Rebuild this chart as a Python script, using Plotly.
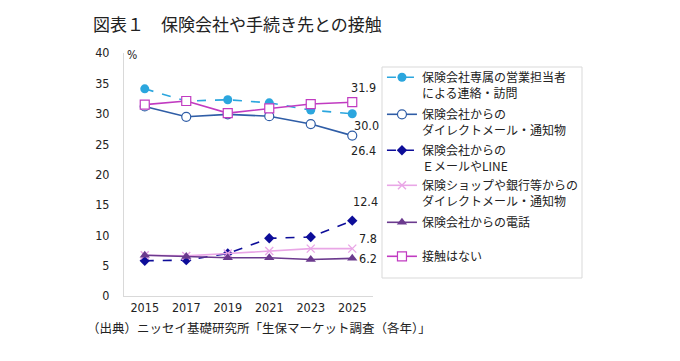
import plotly.graph_objects as go

years = ["2015", "2017", "2019", "2021", "2023", "2025"]
names = [
    "保険会社専属の営業担当者<br>による連絡・訪問",
    "保険会社からの<br>ダイレクトメール・通知物",
    "保険会社からの<br>ＥメールやLINE",
    "保険ショップや銀行等からの<br>ダイレクトメール・通知物",
    "保険会社からの電話",
    "接触はない",
]
agent = [34.1, 32.1, 32.3, 31.8, 30.6, 30.0]
dm_company = [31.2, 29.5, 29.9, 29.6, 28.3, 26.4]
email_line = [5.8, 5.9, 7.0, 9.5, 9.7, 12.4]
dm_shop = [6.7, 6.6, 7.0, 7.4, 7.8, 7.8]
phone = [6.7, 6.5, 6.3, 6.3, 6.0, 6.2]
no_contact = [31.5, 32.1, 30.1, 30.9, 31.6, 31.9]
y_ticks = [0, 5, 10, 15, 20, 25, 30, 35, 40]

NUM_FONT = "Liberation Sans Narrow, DejaVu Sans Condensed, Noto Sans CJK JP, sans-serif"
JP_FONT = "Noto Sans CJK JP, sans-serif"

W, H = 672, 353  # page has an 8px body margin
ML, MR, MT, MB = 116, 307, 45, 65
PW, PH = W - ML - MR, H - MT - MB

series = [
    (agent, dict(color="#2BA6DE", width=1.6, dash="dash"),
     dict(symbol="circle", size=9, color="#2BA6DE")),
    (dm_company, dict(color="#2F5DA6", width=1.6),
     dict(symbol="circle", size=9, color="white", line=dict(color="#2F5DA6", width=1.2))),
    (email_line, dict(color="#0D0D99", width=1.6, dash="dash"),
     dict(symbol="diamond", size=8, color="#0D0D99")),
    (dm_shop, dict(color="#E9A6E6", width=1.6),
     dict(symbol="x-thin", size=8, color="#E9A6E6", line=dict(color="#E9A6E6", width=1.4))),
    (phone, dict(color="#6B3A8E", width=1.6),
     dict(symbol="triangle-up", size=9, color="#6B3A8E")),
    (no_contact, dict(color="#C13BC1", width=1.6),
     dict(symbol="square", size=9, color="white", line=dict(color="#C13BC1", width=1.2))),
]

# legend entry tops (figure px)
legend_tops = [55, 92, 128, 163, 200, 234]

fig = go.Figure()
layout_legends = {}
for i, ((vals, line, marker), name) in enumerate(zip(series, names)):
    lg = "legend" if i == 0 else f"legend{i + 1}"
    fig.add_trace(go.Scatter(x=years, y=vals, name=name, mode="lines+markers",
                             line=line, marker=marker, legend=lg))
    layout_legends[lg] = dict(x=1.036, y=1 - (legend_tops[i] - MT) / PH, xanchor="left",
                              yanchor="top", borderwidth=0, bgcolor="rgba(0,0,0,0)",
                              valign="top", font=dict(family=JP_FONT, size=12, color="#222"))

last = len(years) - 1
labels = [
    (no_contact[-1], 11, 15),
    (agent[-1], 14, -12),
    (dm_company[-1], 11, -15),
    (email_line[-1], 13, 19),
    (dm_shop[-1], 16, 10),
    (phone[-1], 16, 0),
]
for y, xs, ys in labels:
    fig.add_annotation(x=last, y=y, text=f"{y:.1f}", showarrow=False, xshift=xs, yshift=ys,
                       xanchor="center", yanchor="middle",
                       font=dict(family=NUM_FONT, size=12.5, color="#222"))

fig.add_annotation(xref="paper", yref="paper", x=0.005, y=0.99, text="%", showarrow=False,
                   xanchor="left", yanchor="middle", font=dict(family=NUM_FONT, size=12, color="#222"))

# legend frame
fig.add_shape(type="rect", xref="paper", yref="paper",
              x0=(374 - ML) / PW, x1=(574 - ML) / PW,
              y0=1 - (270 - MT) / PH, y1=1 - (59 - MT) / PH,
              line=dict(color="#D9D9D9", width=1), fillcolor="white", layer="below")

fig.update_layout(
    width=W, height=H,
    margin=dict(l=ML, r=MR, t=MT, b=MB),
    paper_bgcolor="white", plot_bgcolor="white",
    title=dict(text="図表１　保険会社や手続き先との接触", x=85 / W, xanchor="left",
               y=1 - 17 / H, yanchor="middle",
               font=dict(family=JP_FONT, size=17, color="#222")),
    xaxis=dict(type="category", showgrid=False, showline=True, linecolor="#D9D9D9",
               linewidth=1, ticks="", tickfont=dict(family=NUM_FONT, size=12.5, color="#222"),
               range=[-0.5, 5.5]),
    yaxis=dict(range=[0, 40], tickvals=y_ticks, showgrid=False, showline=True,
               linecolor="#D9D9D9", linewidth=1, ticks="", zeroline=False,
               tickfont=dict(family=NUM_FONT, size=12.5, color="#222"), ticklabelstandoff=11),
    showlegend=True,
    **layout_legends,
)

fig.add_annotation(xref="paper", yref="paper", x=-39 / PW, y=-31 / PH,
                   text="（出典）ニッセイ基礎研究所「生保マーケット調査（各年）」",
                   showarrow=False, xanchor="left", yanchor="middle",
                   font=dict(family=JP_FONT, size=12.5, color="#222"))

fig.write_html("out.html")
